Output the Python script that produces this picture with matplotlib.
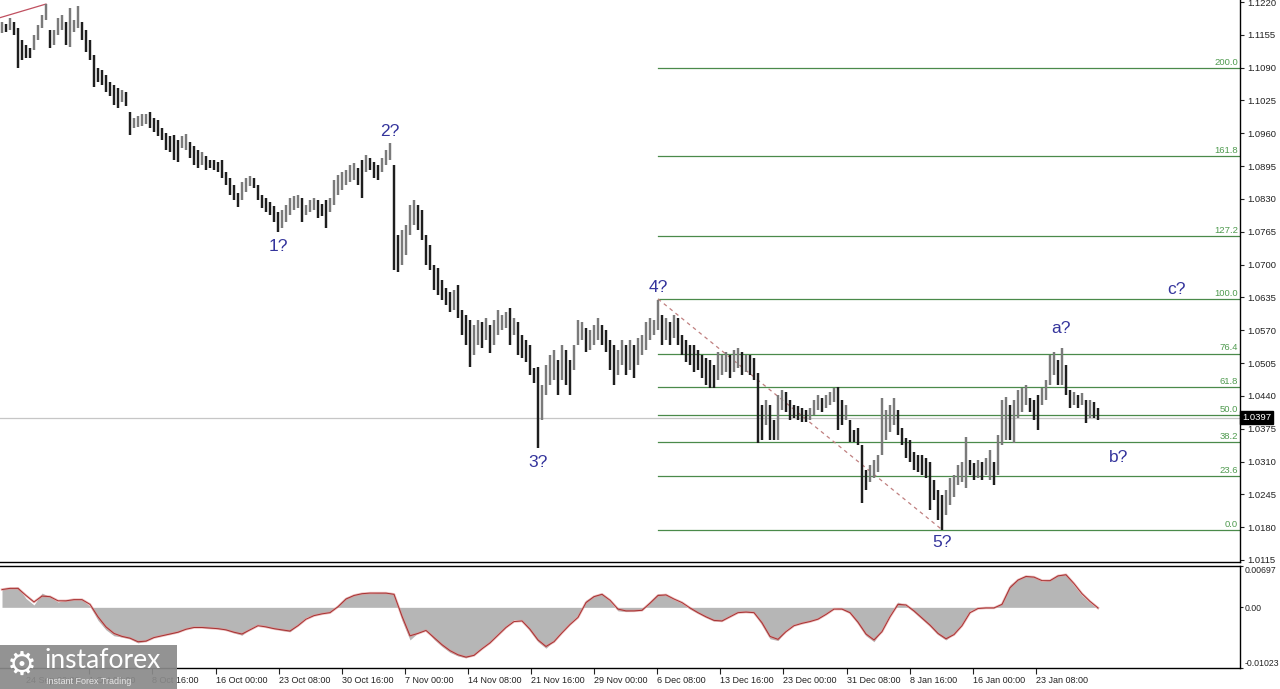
import numpy as np
import matplotlib
matplotlib.use('Agg')
import matplotlib.pyplot as plt
import matplotlib.transforms as mtransforms
from matplotlib.patches import Rectangle

# EURUSD H4, bar highs / lows (one entry per visible bar)
highs = [
    1.1180, 1.1176, 1.1188, 1.1180, 1.1169, 1.1145, 1.1135, 1.1129, 1.1155, 1.1175,
    1.1194, 1.1216, 1.1165, 1.1165, 1.1188, 1.1194, 1.1180, 1.1208, 1.1184, 1.1212,
    1.1180, 1.1165, 1.1145, 1.1115, 1.1089, 1.1085, 1.1075, 1.1062, 1.1056, 1.1050,
    1.1046, 1.1042, 1.1002, 1.0990, 1.0994, 1.0998, 1.0998, 1.1002, 1.0990, 1.0986,
    1.0971, 1.0961, 1.0955, 1.0957, 1.0947, 1.0955, 1.0959, 1.0943, 1.0935, 1.0927,
    1.0923, 1.0915, 1.0907, 1.0907, 1.0903, 1.0907, 1.0883, 1.0872, 1.0858, 1.0842,
    1.0864, 1.0872, 1.0876, 1.0872, 1.0858, 1.0838, 1.0832, 1.0824, 1.0816, 1.0804,
    1.0808, 1.0818, 1.0832, 1.0836, 1.0838, 1.0832, 1.0818, 1.0828, 1.0832, 1.0828,
    1.0820, 1.0828, 1.0832, 1.0868, 1.0877, 1.0883, 1.0887, 1.0897, 1.0901, 1.0891,
    1.0907, 1.0917, 1.0911, 1.0903, 1.0897, 1.0911, 1.0927, 1.0941, 1.0897, 1.0759,
    1.0769, 1.0779, 1.0818, 1.0828, 1.0818, 1.0808, 1.0759, 1.0739, 1.0699, 1.0693,
    1.0670, 1.0654, 1.0646, 1.0650, 1.0660, 1.0610, 1.0600, 1.0590, 1.0580, 1.0590,
    1.0586, 1.0594, 1.0580, 1.0590, 1.0610, 1.0600, 1.0606, 1.0614, 1.0594, 1.0586,
    1.0561, 1.0551, 1.0541, 1.0495, 1.0497, 1.0462, 1.0501, 1.0521, 1.0531, 1.0511,
    1.0541, 1.0531, 1.0511, 1.0541, 1.0590, 1.0586, 1.0575, 1.0571, 1.0580, 1.0594,
    1.0580, 1.0571, 1.0551, 1.0541, 1.0531, 1.0551, 1.0541, 1.0551, 1.0541, 1.0555,
    1.0561, 1.0586, 1.0594, 1.0590, 1.0630, 1.0600, 1.0594, 1.0586, 1.0600, 1.0594,
    1.0561, 1.0551, 1.0541, 1.0541, 1.0531, 1.0521, 1.0515, 1.0511, 1.0501, 1.0527,
    1.0521, 1.0527, 1.0521, 1.0531, 1.0535, 1.0527, 1.0521, 1.0521, 1.0515, 1.0485,
    1.0422, 1.0432, 1.0422, 1.0392, 1.0442, 1.0452, 1.0448, 1.0432, 1.0422, 1.0420,
    1.0416, 1.0412, 1.0416, 1.0432, 1.0442, 1.0436, 1.0442, 1.0448, 1.0456, 1.0458,
    1.0432, 1.0422, 1.0392, 1.0373, 1.0377, 1.0343, 1.0293, 1.0303, 1.0313, 1.0323,
    1.0436, 1.0412, 1.0422, 1.0436, 1.0412, 1.0377, 1.0357, 1.0353, 1.0329, 1.0323,
    1.0323, 1.0317, 1.0309, 1.0274, 1.0254, 1.0244, 1.0254, 1.0278, 1.0283, 1.0303,
    1.0309, 1.0359, 1.0313, 1.0307, 1.0313, 1.0309, 1.0317, 1.0333, 1.0309, 1.0363,
    1.0432, 1.0438, 1.0422, 1.0432, 1.0452, 1.0456, 1.0462, 1.0436, 1.0432, 1.0442,
    1.0456, 1.0472, 1.0521, 1.0527, 1.0511, 1.0535, 1.0501, 1.0452, 1.0448, 1.0442,
    1.0446, 1.0432, 1.0432, 1.0428, 1.0416,
]
lows = [
    1.1159, 1.1161, 1.1165, 1.1155, 1.1089, 1.1105, 1.1109, 1.1109, 1.1125, 1.1145,
    1.1169, 1.1184, 1.1129, 1.1135, 1.1155, 1.1165, 1.1135, 1.1131, 1.1161, 1.1169,
    1.1145, 1.1121, 1.1105, 1.1052, 1.1062, 1.1056, 1.1042, 1.1034, 1.1016, 1.1010,
    1.1022, 1.1014, 1.0957, 1.0971, 1.0973, 1.0975, 1.0979, 1.0971, 1.0963, 1.0955,
    1.0947, 1.0927, 1.0923, 1.0907, 1.0903, 1.0931, 1.0927, 1.0911, 1.0897, 1.0891,
    1.0897, 1.0887, 1.0891, 1.0887, 1.0883, 1.0872, 1.0858, 1.0838, 1.0828, 1.0814,
    1.0828, 1.0844, 1.0856, 1.0852, 1.0828, 1.0812, 1.0804, 1.0798, 1.0784, 1.0765,
    1.0773, 1.0784, 1.0798, 1.0808, 1.0812, 1.0784, 1.0798, 1.0804, 1.0808, 1.0792,
    1.0796, 1.0773, 1.0804, 1.0818, 1.0838, 1.0848, 1.0858, 1.0864, 1.0868, 1.0858,
    1.0832, 1.0883, 1.0887, 1.0872, 1.0868, 1.0883, 1.0897, 1.0907, 1.0689, 1.0685,
    1.0699, 1.0719, 1.0759, 1.0779, 1.0769, 1.0749, 1.0699, 1.0689, 1.0650, 1.0640,
    1.0630, 1.0620, 1.0606, 1.0610, 1.0594, 1.0561, 1.0541, 1.0497, 1.0521, 1.0541,
    1.0535, 1.0551, 1.0525, 1.0541, 1.0561, 1.0571, 1.0575, 1.0541, 1.0561, 1.0521,
    1.0515, 1.0507, 1.0481, 1.0466, 1.0337, 1.0392, 1.0442, 1.0462, 1.0472, 1.0442,
    1.0472, 1.0462, 1.0442, 1.0491, 1.0541, 1.0551, 1.0527, 1.0531, 1.0541, 1.0551,
    1.0541, 1.0527, 1.0491, 1.0462, 1.0481, 1.0501, 1.0481, 1.0491, 1.0476, 1.0501,
    1.0521, 1.0531, 1.0551, 1.0561, 1.0571, 1.0541, 1.0551, 1.0541, 1.0555, 1.0541,
    1.0521, 1.0507, 1.0501, 1.0487, 1.0491, 1.0476, 1.0462, 1.0456, 1.0456, 1.0472,
    1.0481, 1.0487, 1.0476, 1.0487, 1.0495, 1.0481, 1.0487, 1.0481, 1.0472, 1.0347,
    1.0353, 1.0382, 1.0353, 1.0353, 1.0353, 1.0412, 1.0408, 1.0392, 1.0396, 1.0392,
    1.0388, 1.0388, 1.0392, 1.0402, 1.0412, 1.0408, 1.0416, 1.0422, 1.0428, 1.0373,
    1.0382, 1.0392, 1.0349, 1.0349, 1.0343, 1.0228, 1.0254, 1.0270, 1.0278, 1.0289,
    1.0323, 1.0353, 1.0369, 1.0382, 1.0363, 1.0343, 1.0317, 1.0309, 1.0293, 1.0289,
    1.0283, 1.0278, 1.0214, 1.0234, 1.0194, 1.0175, 1.0204, 1.0224, 1.0240, 1.0264,
    1.0270, 1.0258, 1.0283, 1.0274, 1.0278, 1.0274, 1.0283, 1.0274, 1.0264, 1.0283,
    1.0343, 1.0353, 1.0353, 1.0347, 1.0396, 1.0408, 1.0422, 1.0408, 1.0392, 1.0373,
    1.0422, 1.0432, 1.0462, 1.0481, 1.0462, 1.0462, 1.0442, 1.0416, 1.0422, 1.0416,
    1.0422, 1.0386, 1.0396, 1.0396, 1.0392,
]
last_price = 1.0397

# oscillator (one value every second bar)
osc = [
    3.1, 3.3, 3.4, 1.5, 0.4, 2.4, 1.8, 0.9, 1.2, 1.4,
    1.3, 0.2, -2.2, -3.8, -4.8, -5.0, -5.3, -6.0, -5.7, -5.0,
    -4.7, -4.5, -4.2, -3.6, -3.3, -3.4, -3.5, -3.6, -3.8, -4.3,
    -4.7, -3.6, -2.9, -3.3, -3.6, -3.9, -4.1, -2.9, -1.7, -1.3,
    -1.0, -0.8, 0.4, 1.7, 2.1, 2.4, 2.4, 2.5, 2.5, 2.3,
    -2.2, -5.5, -4.3, -3.8, -5.4, -6.6, -7.6, -8.2, -8.5, -8.0,
    -6.8, -5.8, -4.4, -3.2, -2.1, -2.2, -4.0, -5.8, -6.9, -5.6,
    -4.0, -2.6, -1.4, 1.2, 2.0, 2.3, 1.0, -0.6, -0.7, -0.6,
    -0.5, 1.0, 2.3, 2.1, 1.3, 0.7, -0.3, -1.0, -1.7, -2.3,
    -2.3, -1.4, -0.8, -0.8, -0.9, -3.0, -5.3, -5.6, -3.8, -2.9,
    -2.6, -2.3, -1.9, -1.0, -0.1, -0.3, -1.0, -2.8, -4.8, -5.8,
    -3.8, -1.2, 0.9, 0.3, -0.8, -2.0, -3.2, -4.6, -5.5, -4.4,
    -2.8, -0.5, -0.1, -0.1, -0.1, 0.8, 3.8, 4.8, 5.4, 5.1,
    4.4, 4.6, 5.5, 5.6, 3.7, 2.0, 0.8, -0.3,
]
signal = [
    3.0, 3.2, 3.2, 2.0, 0.9, 1.9, 1.8, 1.1, 1.1, 1.3,
    1.3, 0.5, -1.6, -3.3, -4.4, -4.9, -5.2, -5.8, -5.7, -5.1,
    -4.8, -4.5, -4.2, -3.7, -3.4, -3.4, -3.5, -3.6, -3.8, -4.2,
    -4.5, -3.8, -3.1, -3.3, -3.6, -3.8, -4.0, -3.1, -2.0, -1.4,
    -1.1, -0.9, 0.1, 1.4, 2.0, 2.3, 2.4, 2.4, 2.4, 2.2,
    -1.5, -4.8, -4.4, -3.9, -5.1, -6.3, -7.3, -8.0, -8.4, -8.1,
    -7.0, -6.0, -4.7, -3.4, -2.4, -2.3, -3.7, -5.5, -6.6, -5.8,
    -4.3, -2.9, -1.7, 0.8, 1.8, 2.2, 1.2, -0.3, -0.6, -0.6,
    -0.5, 0.7, 2.0, 2.1, 1.4, 0.8, -0.1, -0.9, -1.6, -2.2,
    -2.3, -1.6, -0.9, -0.8, -0.9, -2.6, -4.9, -5.4, -4.1, -3.1,
    -2.7, -2.4, -2.0, -1.2, -0.3, -0.3, -0.9, -2.5, -4.5, -5.5,
    -4.1, -1.6, 0.5, 0.4, -0.6, -1.8, -3.0, -4.4, -5.3, -4.6,
    -3.1, -0.9, -0.2, -0.1, -0.1, 0.5, 3.3, 4.6, 5.2, 5.1,
    4.5, 4.5, 5.3, 5.5, 4.0, 2.3, 1.0, -0.1,
]

# fibonacci grid from wave 4 top to wave 5 bottom
fib_high = 1.0632
fib_low = 1.0174
fib_start = 164
fib_ratios = [0.0, 0.236, 0.382, 0.5, 0.618, 0.764, 1.0, 1.272, 1.618, 2.0]
fib_labels = ['0.0', '23.6', '38.2', '50.0', '61.8', '76.4', '100.0', '127.2', '161.8', '200.0']

# wave counts: (text, bar index, price)
waves = [('1?', 69.2, 1.0735), ('2?', 97.0, 1.0963), ('3?', 134.0, 1.0309),
         ('4?', 164.2, 1.0654), ('5?', 235.0, 1.0149), ('a?', 264.7, 1.0573),
         ('b?', 279.2, 1.0317), ('c?', 293.7, 1.0650)]

price_ticks = [1.0115, 1.0180, 1.0245, 1.0310, 1.0375, 1.0440, 1.0505, 1.0570, 1.0635,
               1.0700, 1.0765, 1.0830, 1.0895, 1.0960, 1.1025, 1.1090, 1.1155, 1.1220]
osc_ticks = [0.00697, 0.0, -0.01023]
osc_tick_labels = ['0.00697', '0.00', '-0.01023']
date_labels = ['24 Sep 00:00', '1 Oct 08:00', '8 Oct 16:00', '16 Oct 00:00', '23 Oct 08:00',
               '30 Oct 16:00', '7 Nov 00:00', '14 Nov 08:00', '21 Nov 16:00', '29 Nov 00:00',
               '6 Dec 08:00', '13 Dec 16:00', '23 Dec 00:00', '31 Dec 08:00', '8 Jan 16:00',
               '16 Jan 00:00', '23 Jan 08:00']

plt.rcParams['font.family'] = ['Liberation Sans', 'DejaVu Sans']

W, H = 1280, 689
fig = plt.figure(figsize=(W / 100, H / 100), dpi=100)
fig.patch.set_facecolor('white')
ax = fig.add_axes([0, (H - 562) / H, 1240 / W, 562 / H])
ax2 = fig.add_axes([0, (H - 668) / H, 1240 / W, 102 / H])

n = min(len(highs), len(lows))
hi = np.array(highs[:n])
lo = np.array(lows[:n])
xs = np.arange(n)
mid = (hi + lo) / 2
up = np.r_[True, mid[1:] >= mid[:-1]]
cols = np.where(up, '#7a7a7a', '#1e1e1e')

# price panel
ax.axhline(last_price, color='#c6c6c6', lw=0.9, zorder=1)
ax.vlines(xs, lo, hi, colors=cols, lw=1.75, zorder=3)

blend = mtransforms.blended_transform_factory(ax.transAxes, ax.transData)
rng = fib_high - fib_low
for r, lab in zip(fib_ratios, fib_labels):
    lvl = fib_low + r * rng
    ax.plot([fib_start, 400], [lvl, lvl], color='#4a8a4a', lw=0.9, zorder=2)
    ax.text(0.9985, lvl + 0.0002, lab, transform=blend, ha='right', va='bottom',
            fontsize=6.8, color='#4f9a4f', zorder=4)

# trend lines
ax.plot([fib_start, 235], [fib_high, lows[235]], color='#c08080', lw=0.9,
        ls=(0, (3, 3)), zorder=2)
ax.plot([-0.5, 11], [1.1189, highs[11]], color='#c05060', lw=0.9, zorder=2)

for txt, bx, by in waves:
    ax.text(bx, by, txt, ha='center', va='center', fontsize=12.5, color='#34349c', zorder=5)

ax.set_xlim(-0.5, 309.5)
ax.set_ylim(1.0111, 1.1224)
ax.set_xticks([])
ax.yaxis.tick_right()
ax.set_yticks(price_ticks)
ax.set_yticklabels(['%.4f' % t for t in price_ticks])
ax.tick_params(axis='y', direction='out', length=3, width=0.8, labelsize=6.8, pad=2,
               colors='#222222')
for s in ['left', 'top']:
    ax.spines[s].set_visible(False)
for s in ['right', 'bottom']:
    ax.spines[s].set_linewidth(1.0)
    ax.spines[s].set_color('black')

ax.text(1.0015, last_price, '%.4f' % last_price, transform=blend, ha='left', va='center',
        fontsize=6.8, color='white', clip_on=False, zorder=6,
        bbox=dict(boxstyle='square,pad=0.2', fc='black', ec='black'))

# oscillator panel
ox = np.arange(len(osc)) * 2
ov = np.array(osc) / 1000
sv = np.array(signal[:len(osc)]) / 1000
ax2.fill_between(ox, 0, ov, color='#b6b6b6', lw=0, zorder=2)
ax2.plot(ox, sv, color='#e09090', lw=1.8, alpha=0.6, zorder=3)
ax2.plot(ox, sv, color='#a83030', lw=0.7, zorder=4)
ax2.set_xlim(-0.5, 309.5)
ax2.set_ylim(-0.01023, 0.00697)
ax2.yaxis.tick_right()
ax2.set_yticks(osc_ticks)
ax2.set_yticklabels(osc_tick_labels)
ax2.tick_params(axis='y', direction='out', length=2, width=0.8, labelsize=6.3, pad=1,
                colors='#222222')
yl = ax2.get_yticklabels()
yl[0].set_va('top')
yl[2].set_va('bottom')

tick0, step = 6.05, 15.775
ax2.set_xticks([tick0 + step * k for k in range(len(date_labels))])
ax2.set_xticklabels(date_labels)
ax2.tick_params(axis='x', direction='out', length=4, width=0.8, labelsize=6.5, pad=2,
                colors='#222222')
for t in ax2.get_xticklabels():
    t.set_ha('left')
ax2.spines['left'].set_visible(False)
for s in ['right', 'bottom', 'top']:
    ax2.spines[s].set_linewidth(1.0)
    ax2.spines[s].set_color('black')

# logo
fig.patches.append(Rectangle((0, 0), 177 / W, 44 / H, transform=fig.transFigure,
                             fc='#8a8a8a', ec='none', alpha=0.92, zorder=10))
fig.text(7 / W, (H - 665) / H, '\u2699', family='DejaVu Sans', fontsize=24, color='white',
         va='center', ha='left', zorder=11)
fig.text(44 / W, (H - 661) / H, 'instaforex', family='Lato', fontsize=19, color='white',
         va='center', ha='left', zorder=11)
fig.text(46 / W, (H - 682) / H, 'Instant Forex Trading', fontsize=6.5, color='#e6e6e6',
         va='center', ha='left', zorder=11)

fig.savefig('out.png', dpi=100)
